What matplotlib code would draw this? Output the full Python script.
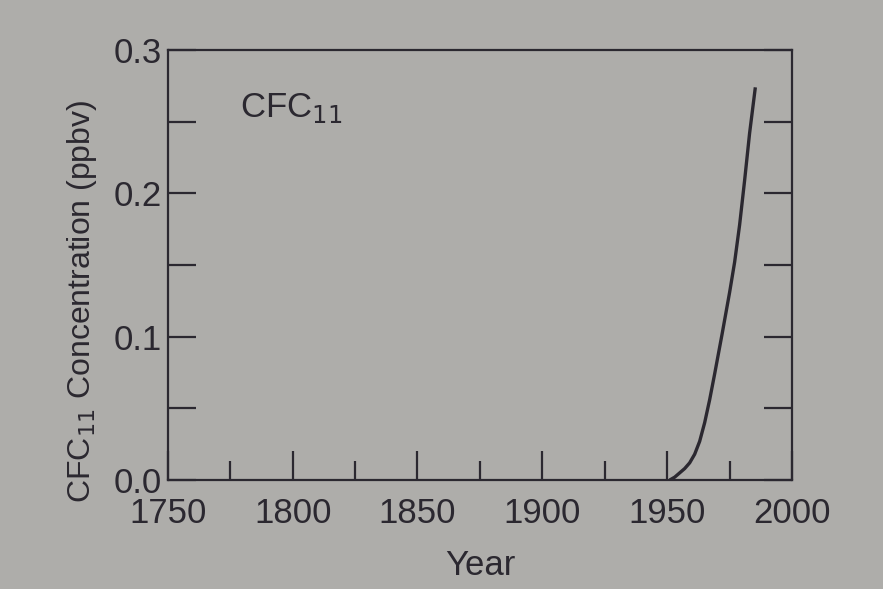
import matplotlib.pyplot as plt
from matplotlib.ticker import MultipleLocator

# values
years = [1951, 1953, 1955, 1957, 1959, 1961, 1963, 1965, 1967, 1969, 1972, 1975, 1977, 1979, 1981, 1983, 1985.3]
conc = [0.0, 0.002, 0.005, 0.008, 0.012, 0.018, 0.027, 0.040, 0.056, 0.074, 0.102, 0.131, 0.152, 0.178, 0.209, 0.242, 0.274]

x_ticks = [1750, 1800, 1850, 1900, 1950, 2000]
y_ticks = [0.0, 0.1, 0.2, 0.3]

paper = '#aeadaa'
ink = '#2b2830'

plt.rcParams['font.family'] = ['Liberation Sans', 'DejaVu Sans']

fig = plt.figure(figsize=(8.83, 5.89), dpi=100, facecolor=paper)
ax = fig.add_axes([0.190, 0.185, 0.707, 0.730], facecolor=paper)

ax.plot(years, conc, color=ink, lw=2.4, solid_capstyle='butt')

ax.set_xlim(1750, 2000)
ax.set_ylim(0, 0.3)
ax.set_xticks(x_ticks)
ax.set_yticks(y_ticks)
ax.set_yticklabels([f'{v:.1f}' for v in y_ticks])
ax.xaxis.set_minor_locator(MultipleLocator(25))
ax.yaxis.set_minor_locator(MultipleLocator(0.05))

ax.tick_params(axis='both', which='both', direction='in', colors=ink, labelsize=25, width=1.6)
ax.tick_params(axis='x', which='major', length=21, pad=12, top=False)
ax.tick_params(axis='x', which='minor', length=14, top=False)
ax.tick_params(axis='y', which='both', length=20, right=True, left=True)
ax.tick_params(axis='y', which='major', pad=4)
for s in ax.spines.values():
    s.set_color(ink)
    s.set_linewidth(1.6)

ax.set_xlabel('Year', fontsize=25, color=ink, labelpad=14)
ax.set_ylabel('CFC$_{11}$ Concentration (ppbv)', fontsize=23, color=ink)
ax.yaxis.set_label_coords(-0.11, 0.415)
ax.text(0.115, 0.845, 'CFC$_{11}$', transform=ax.transAxes, fontsize=25, color=ink)

fig.savefig('out.png', dpi=100, facecolor=paper)
